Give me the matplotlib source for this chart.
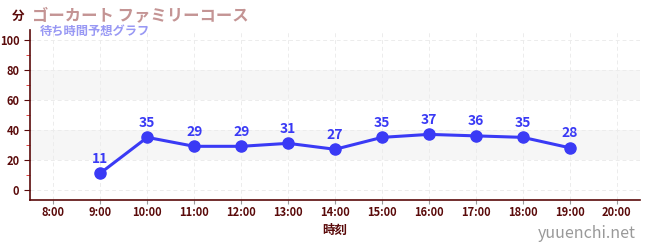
import matplotlib
matplotlib.use("Agg")
import matplotlib.pyplot as plt
from matplotlib.ticker import MultipleLocator

plt.rcParams['font.family'] = ['Noto Sans CJK JP', 'DejaVu Sans']

hours = [9, 10, 11, 12, 13, 14, 15, 16, 17, 18, 19]
waits = [11, 35, 29, 29, 31, 27, 35, 37, 36, 35, 28]
xticks = list(range(8, 21))
xticklabels = [f"{h}:00" for h in xticks]
yticks = [0, 20, 40, 60, 80, 100]

title = "ゴーカート ファミリーコース"
subtitle = "待ち時間予想グラフ"
ylabel = "分"
xlabel = "時刻"
watermark = "yuuenchi.net"

dark = "#5a0a0a"
blue = "#3a3af5"

fig = plt.figure(figsize=(6.5, 2.5), dpi=100)
ax = fig.add_axes([0.046, 0.2, 0.939, 0.68])

ax.set_xlim(7.5, 20.5)
ax.set_ylim(-7, 107)

for lo, hi in [(20, 40), (60, 80)]:
    ax.axhspan(lo, hi, color="#f6f6f6", zorder=0, lw=0)

ax.set_xticks(xticks)
ax.set_xticklabels(xticklabels)
ax.set_yticks(yticks)
ax.yaxis.set_minor_locator(MultipleLocator(10))
ax.grid(True, which="major", color="#ececec", linestyle=(0, (4, 3)), lw=0.7, zorder=0)

for s in ["top", "right"]:
    ax.spines[s].set_visible(False)
for s in ["left", "bottom"]:
    ax.spines[s].set_color(dark)
    ax.spines[s].set_linewidth(1.2)

ax.tick_params(axis="both", which="major", colors=dark, labelsize=8, length=4)
ax.tick_params(axis="x", which="major", colors="#999999", labelcolor=dark, length=3, pad=1.5)
ax.tick_params(axis="y", which="minor", colors="#dd2222", length=3)
for lab in ax.get_xticklabels() + ax.get_yticklabels():
    lab.set_fontweight("bold")

ax.plot(hours, waits, color=blue, lw=2.2, marker="o", ms=8, zorder=3)
for h, w in zip(hours, waits):
    ax.annotate(str(w), (h, w), xytext=(0, 5.5), textcoords="offset points",
                ha="center", va="bottom", color=blue, fontsize=10, fontweight="bold")

fig.text(0.028, 0.935, ylabel, color=dark, fontsize=9, fontweight="bold", ha="center", va="center")
fig.text(0.05, 0.94, title, color="#c49494", fontsize=11.8, fontweight="bold", ha="left", va="center")
fig.text(0.061, 0.873, subtitle, color="#9898f4", fontsize=8.8, fontweight="bold", ha="left", va="center")
fig.text(0.515, 0.078, xlabel, color=dark, fontsize=9, fontweight="bold", ha="center", va="center")
fig.text(0.978, 0.068, watermark, color="#999999", fontsize=11.5, ha="right", va="center")

fig.savefig("out.png", dpi=100)
